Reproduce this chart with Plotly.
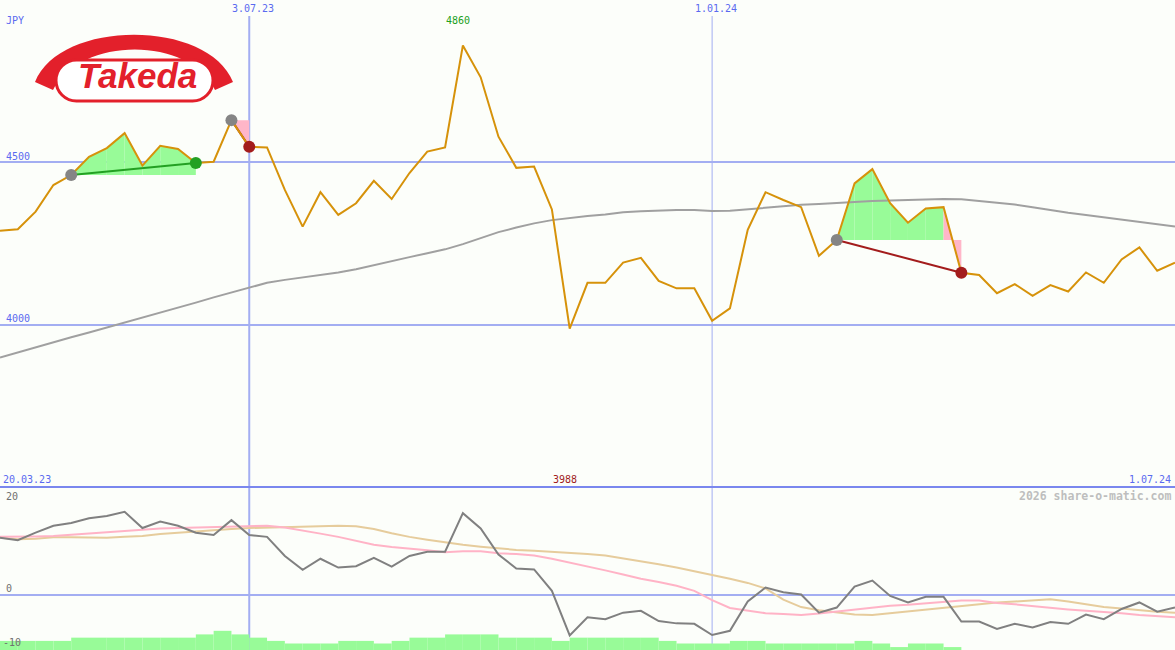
import pandas as pd
import plotly.graph_objects as go

W, H = 1175, 650

# ---------------- data ----------------
dates = pd.date_range("2023-03-27", periods=67, freq="7D")

price = [4289, 4294, 4348, 4430, 4461, 4517, 4544, 4590, 4490, 4551,
         4541, 4498, 4502, 4630, 4548, 4546, 4415, 4302, 4408, 4338,
         4374, 4443, 4387, 4467, 4533, 4546, 4860, 4762, 4579, 4483,
         4487, 4355, 3988, 4129, 4129, 4191, 4206, 4135, 4112, 4112,
         4012, 4050, 4292, 4408, 4384, 4362, 4212, 4261, 4435, 4479,
         4374, 4314, 4358, 4362, 4160, 4153, 4097, 4125, 4089, 4122,
         4102, 4161, 4129, 4201, 4238, 4166, 4191]

ma = [3899, 3915, 3930, 3945, 3961, 3976, 3991, 4007, 4022, 4037,
      4053, 4068, 4084, 4099, 4115, 4129, 4138, 4145, 4153, 4161,
      4171, 4184, 4196, 4208, 4220, 4232, 4248, 4267, 4285, 4299,
      4312, 4322, 4329, 4335, 4339, 4346, 4349, 4352, 4353, 4353,
      4350, 4351, 4356, 4361, 4366, 4369, 4372, 4376, 4378, 4381,
      4383, 4385, 4386, 4387, 4386, 4381, 4375, 4370, 4362, 4353,
      4345, 4338, 4331, 4324, 4316, 4309, 4302]

osc = [12.3, 11.8, 13.4, 14.9, 15.5, 16.5, 17.0, 17.9, 14.4, 15.8,
       14.9, 13.4, 12.9, 16.1, 12.9, 12.5, 8.4, 5.4, 7.8, 5.9,
       6.2, 8.0, 6.1, 8.4, 9.3, 9.3, 17.6, 14.3, 8.7, 5.7,
       5.5, 0.9, -8.7, -4.8, -5.2, -3.8, -3.4, -5.6, -6.1, -6.2,
       -8.6, -7.7, -1.4, 1.6, 0.6, 0.1, -3.8, -2.7, 1.8, 3.1,
       -0.2, -1.6, -0.4, -0.4, -5.7, -5.7, -7.3, -6.2, -7.0, -5.8,
       -6.2, -4.2, -5.2, -3.0, -1.6, -3.6, -2.7]

osc_pink = [12.5, 12.5, 12.6, 12.7, 12.9, 13.2, 13.5, 13.8, 14.1, 14.3,
            14.4, 14.5, 14.6, 14.8, 14.9, 14.9, 14.5, 13.9, 13.2, 12.5,
            11.7, 10.8, 10.3, 10.0, 9.6, 9.2, 9.4, 9.4, 9.0, 8.8,
            8.5, 7.8, 7.0, 6.2, 5.3, 4.4, 3.5, 2.8, 2.0, 0.9,
            -1.1, -2.8, -3.4, -3.9, -4.1, -4.3, -4.0, -3.6, -3.2, -2.7,
            -2.3, -2.1, -1.8, -1.5, -1.2, -1.2, -1.7, -2.0, -2.4, -2.8,
            -3.1, -3.4, -3.6, -3.9, -4.3, -4.6, -4.8]

osc_tan = [12.3, 12.0, 12.1, 12.4, 12.4, 12.3, 12.3, 12.5, 12.7, 13.1,
           13.4, 13.7, 14.0, 14.2, 14.4, 14.5, 14.6, 14.7, 14.8, 14.9,
           14.8, 14.2, 13.3, 12.5, 11.9, 11.3, 10.8, 10.4, 10.0, 9.7,
           9.5, 9.3, 9.1, 8.8, 8.5, 7.9, 7.3, 6.6, 5.9, 5.1,
           4.4, 3.5, 2.6, 1.4, -1.0, -2.6, -3.3, -3.8, -4.2, -4.3,
           -3.9, -3.5, -3.1, -2.7, -2.4, -2.0, -1.6, -1.4, -1.2, -0.9,
           -1.4, -2.0, -2.6, -2.9, -3.3, -3.6, -3.8]

volume = [2.8, 2.8, 2.8, 2.8, 3.8, 3.8, 3.8, 3.8, 3.8, 3.8,
          3.8, 4.8, 5.9, 4.8, 3.8, 2.8, 2.0, 2.0, 2.0, 2.8,
          2.8, 2.0, 2.8, 3.8, 3.8, 4.8, 4.8, 4.8, 3.8, 3.8,
          3.8, 2.8, 3.8, 3.8, 3.8, 3.8, 3.8, 2.8, 2.0, 2.0,
          2.0, 2.8, 2.8, 2.0, 2.0, 2.0, 2.0, 2.0, 2.8, 2.0,
          0.9, 2.0, 2.0, 0.9, 0, 0, 0, 0, 0, 0,
          0, 0, 0, 0, 0, 0, 0]

# (entry index, exit index)
signals = [(4, 11), (13, 14), (47, 54)]

price_ticks = [4000, 4500]
osc_ticks = [0]
date_lines = ["2023-07-03", "2024-01-01"]
date_line_labels = ["3.07.23", "1.01.24"]
currency = "JPY"
first_label = "20.03.23"
last_label = "1.07.24"

# ---------------- styles ----------------
BG = "#FCFEFA"
GRID = "#A3AEF2"
SEP = "#7A87EE"
TXT_BLUE = "#5A6AF0"
ORANGE = "#D6920A"
MA_GRAY = "#A0A0A0"
GREEN_FILL = "#98FB98"
PINK_FILL = "#FFB6C8"
RED = "#E3202B"
MONO = "DejaVu Sans Mono"

SPLIT = 487  # pixel row of panel separator


def px(x):
    return x / W


def py(y):
    return 1 - y / H


fig = go.Figure()

# ---- signal fills ----
for (i, j) in signals:
    base = price[i]
    for s in range(i, j):
        col = GREEN_FILL if price[s + 1] >= base else PINK_FILL
        fig.add_trace(go.Scatter(
            x=[dates[s], dates[s + 1], dates[s + 1], dates[s], dates[s]],
            y=[price[s], price[s + 1], base, base, price[s]],
            fill="toself", fillcolor=col, mode="lines",
            line=dict(width=0, color=col), hoverinfo="skip",
            showlegend=False, xaxis="x", yaxis="y"))

# ---- moving average ----
fig.add_trace(go.Scatter(x=dates, y=ma, mode="lines",
                         line=dict(color=MA_GRAY, width=2),
                         showlegend=False, xaxis="x", yaxis="y"))

# ---- signal connecting lines ----
for (i, j) in signals:
    win = price[j] >= price[i]
    fig.add_trace(go.Scatter(x=[dates[i], dates[j]], y=[price[i], price[j]],
                             mode="lines",
                             line=dict(color="#23A023" if win else "#A31C1C", width=2),
                             showlegend=False, xaxis="x", yaxis="y"))

# ---- price ----
fig.add_trace(go.Scatter(x=dates, y=price, mode="lines",
                         line=dict(color=ORANGE, width=2),
                         showlegend=False, xaxis="x", yaxis="y"))

# ---- signal markers ----
for (i, j) in signals:
    win = price[j] >= price[i]
    fig.add_trace(go.Scatter(x=[dates[i]], y=[price[i]], mode="markers",
                             marker=dict(color="#858585", size=12),
                             showlegend=False, xaxis="x", yaxis="y"))
    fig.add_trace(go.Scatter(x=[dates[j]], y=[price[j]], mode="markers",
                             marker=dict(color="#23A023" if win else "#A31C1C", size=12),
                             showlegend=False, xaxis="x", yaxis="y"))

# ---- volume bars (lower panel, own axis) ----
fig.add_trace(go.Bar(x=dates, y=volume, width=7 * 24 * 3600 * 1000, offset=0,
                     marker=dict(color=GREEN_FILL, line=dict(width=0)),
                     showlegend=False, xaxis="x", yaxis="y2"))

# ---- oscillators ----
fig.add_trace(go.Scatter(x=dates, y=osc_tan, mode="lines",
                         line=dict(color="#E6CC9C", width=2),
                         showlegend=False, xaxis="x", yaxis="y3"))
fig.add_trace(go.Scatter(x=dates, y=osc_pink, mode="lines",
                         line=dict(color="#FFB3C6", width=2),
                         showlegend=False, xaxis="x", yaxis="y3"))
fig.add_trace(go.Scatter(x=dates, y=osc, mode="lines",
                         line=dict(color="#808080", width=2),
                         showlegend=False, xaxis="x", yaxis="y3"))

# ---------------- layout ----------------
price_px_per_unit = 0.32467
p_top = 5000
p_bot = p_top - SPLIT / price_px_per_unit
o_scale = 4.65
o_zero = 595
o_top = (o_zero - SPLIT) / o_scale
o_bot = -(H - o_zero) / o_scale
v_scale = 3.25

fig.update_layout(
    width=W, height=H,
    margin=dict(l=0, r=0, t=0, b=0),
    paper_bgcolor=BG, plot_bgcolor=BG,
    showlegend=False,
    xaxis=dict(range=[dates[0], dates[-1]], showgrid=False, zeroline=False,
               showticklabels=False, showline=False, ticks=""),
    yaxis=dict(domain=[py(SPLIT), 1], range=[p_bot, p_top],
               tickvals=price_ticks, showticklabels=False,
               gridcolor=GRID, gridwidth=2, zeroline=False, showline=False),
    yaxis2=dict(domain=[0, py(SPLIT)], range=[0, (H - SPLIT) / v_scale],
                showgrid=False, showticklabels=False, zeroline=False),
    yaxis3=dict(domain=[0, py(SPLIT)], overlaying="y2", range=[o_bot, o_top],
                tickvals=osc_ticks, showticklabels=False,
                gridcolor=GRID, gridwidth=2, zeroline=False, showline=False),
)

shapes = []
# vertical date lines
for d, w in zip(date_lines, [2, 1]):
    shapes.append(dict(type="line", xref="x", yref="paper", x0=d, x1=d,
                       y0=0, y1=py(16), line=dict(color=GRID, width=w),
                       layer="below"))
# panel separator
shapes.append(dict(type="line", xref="paper", yref="paper", x0=0, x1=1,
                   y0=py(SPLIT), y1=py(SPLIT), line=dict(color=SEP, width=2)))


# logo
def pth(cmds):
    out = []
    for c in cmds:
        if isinstance(c, str):
            out.append(c)
        else:
            out.append(f"{px(c[0]):.5f},{py(c[1]):.5f}")
    return " ".join(out)


arc = pth(["M", (35, 82), "C", (60, 19), (208, 19), (233, 82),
           "L", (215, 90), "C", (190, 36), (80, 36), (53, 90), "Z"])
shapes.append(dict(type="path", xref="paper", yref="paper", path=arc,
                   fillcolor=RED, line=dict(width=0), layer="above"))
k = 0.5523
r = 20.5
cy = 80.5
lx, rx = 76.5, 192.5
cap = pth(["M", (lx, cy - r), "L", (rx, cy - r),
           "C", (rx + k * r, cy - r), (rx + r, cy - k * r), (rx + r, cy),
           "C", (rx + r, cy + k * r), (rx + k * r, cy + r), (rx, cy + r),
           "L", (lx, cy + r),
           "C", (lx - k * r, cy + r), (lx - r, cy + k * r), (lx - r, cy),
           "C", (lx - r, cy - k * r), (lx - k * r, cy - r), (lx, cy - r), "Z"])
shapes.append(dict(type="path", xref="paper", yref="paper", path=cap,
                   fillcolor="#FFFFFF", line=dict(color=RED, width=3), layer="above"))
fig.update_layout(shapes=shapes)

ann = []


def label(text, x, y, color, size=10, anchor="left", bold=False, family=MONO):
    t = f"<b>{text}</b>" if bold else text
    ann.append(dict(text=t, x=px(x), y=py(y), xref="paper", yref="paper",
                    xanchor=anchor, yanchor="middle", showarrow=False,
                    font=dict(family=family, size=size, color=color)))


label(currency, 4, 21, TXT_BLUE)
label(date_line_labels[0], 253, 9, TXT_BLUE, anchor="center")
label(date_line_labels[1], 716, 9, TXT_BLUE, anchor="center")
for v in price_ticks:
    label(str(v), 4, SPLIT - (v - p_bot) * price_px_per_unit - 6, TXT_BLUE)
label(first_label, 1, 479, TXT_BLUE)
label(last_label, 1173, 479, TXT_BLUE, anchor="right")
label("2026 share-o-matic.com", 1173, 496, "#BEBEBE", size=11.5, anchor="right", bold=True)
label("20", 4, 496, "#707070")
label("0", 4, 588.5, "#707070")
label("-10", 1, 642, "#707070")

# max / min labels at their dates
imax = price.index(max(price))
imin = price.index(min(price))
ann.append(dict(text=str(max(price)), x=dates[imax], y=py(21), xref="x", yref="paper",
                xanchor="center", yanchor="middle", showarrow=False, xshift=-5,
                font=dict(family=MONO, size=10, color="#22A022")))
ann.append(dict(text=str(min(price)), x=dates[imin], y=py(479), xref="x", yref="paper",
                xanchor="center", yanchor="middle", showarrow=False, xshift=-5,
                font=dict(family=MONO, size=10, color="#A01C1C")))

# logo text
ann.append(dict(text="<b><i>Takeda</i></b>", x=px(137), y=py(75), xref="paper", yref="paper",
                xanchor="center", yanchor="middle", showarrow=False,
                font=dict(family="Liberation Sans", size=35, color=RED)))

fig.update_layout(annotations=ann)

fig.write_html("out.html",
               config={"displayModeBar": False},
               post_script="document.body.style.margin='0';document.body.style.overflow='hidden';")
